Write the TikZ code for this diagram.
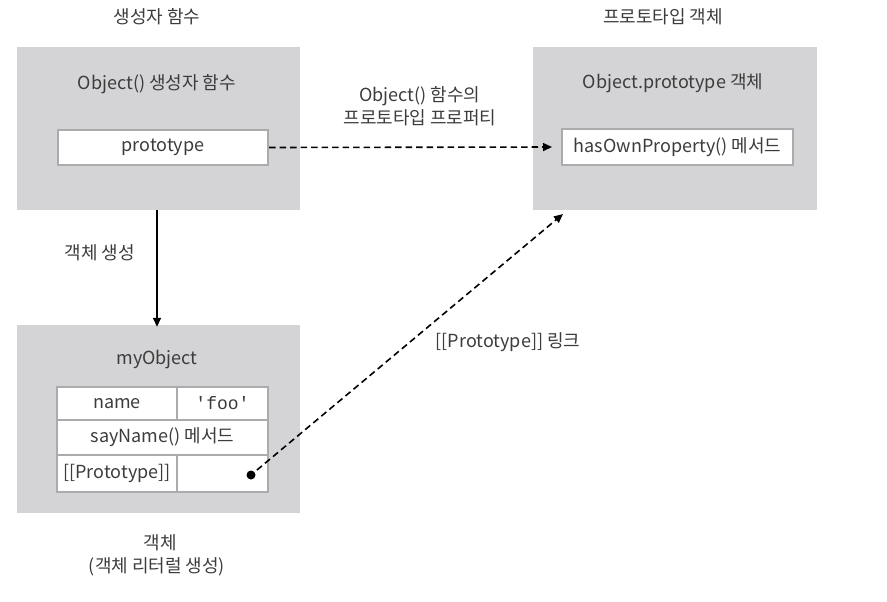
\documentclass[tikz,border=0pt]{standalone}
\usepackage{fontspec}
\setmainfont{Noto Sans CJK KR}
\newfontfamily\monofont{Liberation Mono}
\usetikzlibrary{arrows.meta}
\definecolor{boxgray}{HTML}{D4D4D6}
\definecolor{cellline}{HTML}{ABABAD}
\definecolor{txt}{HTML}{3C3C3C}
\tikzset{
  graybox/.style={fill=boxgray, draw=none, inner sep=0pt},
  cellbox/.style={fill=white, draw=cellline, line width=2pt, inner sep=0pt, text=txt, font=\fontsize{18}{22}\selectfont},
  lbl/.style={text=txt, inner sep=0pt, font=\fontsize{18}{22}\selectfont},
  conn/.style={line width=1.6pt, -{Triangle[length=9pt,width=8pt]}},
  dconn/.style={conn, dash pattern=on 6.5pt off 4pt},
}
\begin{document}
\begin{tikzpicture}[x=1pt,y=-1pt]
\useasboundingbox (0,0) rectangle (887,602);
% top-left box
\node[graybox, minimum width=283pt, minimum height=163pt] (ctor) at (158.5,128.5) {};
\node[lbl] (t1) at (157,17) {생성자 함수};
\node[lbl] (ctorlbl) at (157,84) {Object() 생성자 함수};
\node[cellbox, minimum width=210pt, minimum height=35pt] (proto) at (163,147.5) {prototype};
% top-right box
\node[graybox, minimum width=284pt, minimum height=163pt] (pobj) at (675,128.5) {};
\node[lbl] (t2) at (663,17) {프로토타입 객체};
\node[lbl] (pobjlbl) at (673,83) {Object.prototype 객체};
\node[cellbox, minimum width=231pt, minimum height=36pt] (hasown) at (677.5,147) {hasOwnProperty() 메서드};
% bottom-left box
\node[graybox, minimum width=283pt, minimum height=188pt] (obj) at (158.5,419) {};
\node[lbl] (objlbl) at (157,360) {myObject};
\node[cellbox, minimum width=120pt, minimum height=33pt] (cname) at (117,403.5) {name};
\node[cellbox, minimum width=91pt, minimum height=33pt] (cfoo) at (222.5,403.5) {\monofont 'foo'};
\node[cellbox, minimum width=211pt, minimum height=35pt] (csay) at (162.5,437.5) {sayName() 메서드};
\node[cellbox, minimum width=120pt, minimum height=37pt] (cproto) at (117,473.5) {[[Prototype]]};
\node[cellbox, minimum width=91pt, minimum height=37pt] (clink) at (222.5,473.5) {};
\node[circle, fill=black, inner sep=0pt, minimum size=9pt] (dot) at (251,475) {};
\node[lbl] (b1) at (160,543) {객체};
\node[lbl] (b2) at (157,567) {(객체 리터럴 생성)};
% labels
\node[lbl, align=center] (alabel) at (420,106) {Object() 함수의\\[1pt]프로토타입 프로퍼티};
\node[lbl] (clabel) at (100,253) {객체 생성};
\node[lbl] (llabel) at (508,342) {[[Prototype]] 링크};
\coordinate (tip) at (563,214);
% connectors
\draw[dconn, shorten >=9pt] (proto.east) -- (hasown.west);
\draw[conn, shorten >=-2pt] (ctor.south -| objlbl) -- (obj.north -| objlbl);
\draw[dconn, shorten <=3pt] (dot) -- (tip);
\end{tikzpicture}
\end{document}
